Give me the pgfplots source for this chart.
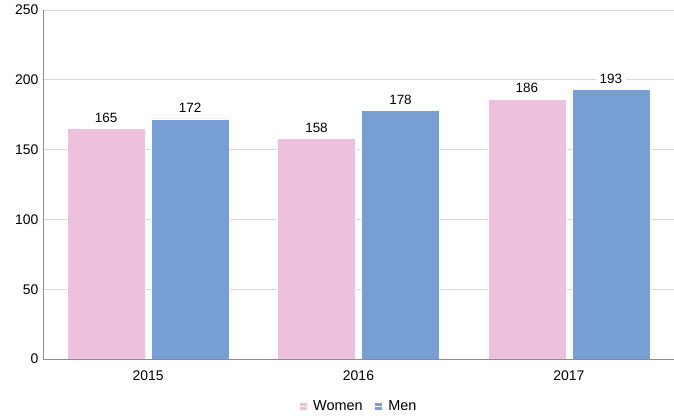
\documentclass[border=0pt]{standalone}
\usepackage{fontspec}
\setmainfont{Liberation Sans}
\usepackage{pgfplots}
\pgfplotsset{compat=1.18}
\definecolor{women}{HTML}{EDC0DE}
\definecolor{men}{HTML}{779FD3}
\definecolor{axisgray}{HTML}{8C8C8C}
\definecolor{gridgray}{HTML}{D9D9D9}
\begin{document}
\begin{tikzpicture}
\begin{axis}[
  scale only axis, width=631bp, height=349bp,
  ybar=6bp, bar width=78bp,
  xmin=-0.5, xmax=2.5, ymin=0, ymax=250,
  xtick=data, xticklabels={2015,2016,2017},
  ytick={0,50,...,250},
  axis x line*=bottom, axis y line*=left,
  axis line style={axisgray, line width=1pt},
  x axis line style={-}, y axis line style={-},
  major tick length=0pt,
  ymajorgrids, grid style={gridgray, line width=0.8pt},
  tick label style={font=\fontsize{14}{16}\selectfont, text=black},
  /pgf/number format/assume math mode=true,
  xticklabel style={yshift=-8bp},
  yticklabel style={xshift=-1bp},
  nodes near coords,
  nodes near coords style={font=\fontsize{13.5}{16}\selectfont, fill=white, inner xsep=4bp, inner ysep=2bp, yshift=4bp},
  legend style={at={(0.5,-0.1347)}, anchor=center, draw=none, legend columns=2, inner sep=0pt,
    font=\fontsize{14.5}{16}\selectfont, /tikz/every even column/.append style={column sep=9bp}},
  legend image code/.code={\fill[#1] (0bp,-4bp) rectangle (8bp,4bp); \path (0bp,0bp) -- (12bp,0bp);},
]
\addplot[fill=women, draw=white, line width=0.6pt] coordinates {(0,165) (1,158) (2,186)};
\addplot[fill=men, draw=white, line width=0.6pt] coordinates {(0,172) (1,178) (2,193)};
\legend{Women,Men}
\path (rel axis cs:0,0) ++(-43bp,-61bp) coordinate (bl);
\path (rel axis cs:1,1) ++(0bp,10bp) coordinate (tr);
\end{axis}
\pgfresetboundingbox
\useasboundingbox (bl) rectangle (tr);
\end{tikzpicture}
\end{document}
